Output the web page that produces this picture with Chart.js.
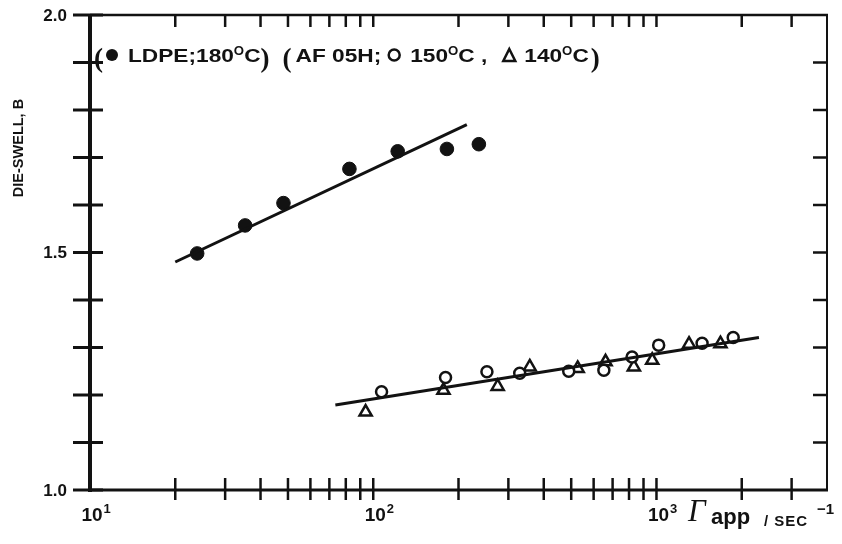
<!DOCTYPE html>
<html>
<head>
<meta charset="utf-8">
<script src="https://cdn.jsdelivr.net/npm/chart.js@4.4.1/dist/chart.umd.min.js"></script>
<style>
  html, body { margin: 0; padding: 0; background: #fff; }
</style>
</head>
<body>
<canvas id="chart" width="842" height="544"></canvas>
<script>
// LDPE at 180 C (filled circles) and its fitted line
const ldpeRate = [23.9, 35.3, 48.2, 82.4, 122, 182, 236]
const ldpeSwell = [1.498, 1.557, 1.604, 1.676, 1.713, 1.718, 1.728]
const ldpeFitRate = [20, 214]
const ldpeFitSwell = [1.480, 1.769]

// AF05H at 150 C (open circles) and 140 C (triangles), one common line
const af150Rate = [107, 180, 252, 329, 490, 652, 820, 1018, 1449, 1866]
const af150Swell = [1.207, 1.237, 1.249, 1.246, 1.250, 1.252, 1.280, 1.305, 1.309, 1.321]
const af140Rate = [94, 177, 275, 357, 527, 661, 832, 966, 1303, 1682]
const af140Swell = [1.164, 1.210, 1.218, 1.259, 1.256, 1.270, 1.259, 1.273, 1.307, 1.308]
const afFitRate = [73.5, 2300]
const afFitSwell = [1.179, 1.321]

// axes
const xTicks = [10, 20, 30, 40, 50, 60, 70, 80, 90, 100, 200, 300, 400, 500, 600, 700, 800, 900, 1000, 2000, 3000]
const xLabels = [10, 100, 1000]
const xLabelText = ['10', '10', '10']
const xLabelSup = ['1', '2', '3']
const yTicks = [1.0, 1.1, 1.2, 1.3, 1.4, 1.5, 1.6, 1.7, 1.8, 1.9, 2.0]
const yLabels = [1.0, 1.5, 2.0]

const INK = '#121212'
const SANS = '"Liberation Sans", Arial, sans-serif'

const pts = (xs, ys) => xs.map((x, i) => ({ x: x, y: ys[i] }))

const axesPlugin = {
  id: 'oldAxes',
  beforeDatasetsDraw(chart) {
    const { ctx, chartArea: a, scales: { x, y } } = chart
    const seg = (x1, y1, x2, y2, w) => {
      ctx.lineWidth = w
      ctx.beginPath()
      ctx.moveTo(x1, y1)
      ctx.lineTo(x2, y2)
      ctx.stroke()
    }
    ctx.save()
    ctx.strokeStyle = INK
    ctx.lineCap = 'butt'

    // frame
    seg(a.left, a.top, a.right + 1, a.top, 2.5)
    seg(a.right, a.top, a.right, a.bottom, 2)
    seg(a.left, a.top - 1, a.left, a.bottom + 2, 4)
    seg(a.left - 2, a.bottom, a.right + 1, a.bottom, 3)

    // x ticks: crossing on bottom, inward on top
    xTicks.forEach(v => {
      const px = x.getPixelForValue(v)
      if (v > 10) seg(px, a.bottom - 12, px, a.bottom + 10, 2.5)
      if (v > 10) seg(px, a.top, px, a.top + 12, 2.5)
    })
    // y ticks: crossing on left, inward on right
    yTicks.forEach(v => {
      const py = y.getPixelForValue(v)
      seg(a.left - 17, py, a.left + 13, py, 3)
      if (v > 1.0 && v < 2.0) seg(a.right - 14, py, a.right, py, 2.5)
    })

    // tick labels
    ctx.fillStyle = INK
    ctx.font = 'bold 17px ' + SANS
    ctx.textAlign = 'right'
    ctx.textBaseline = 'middle'
    yLabels.forEach(v => {
      ctx.fillText(v.toFixed(1), 67, y.getPixelForValue(v) + 1)
    })

    ctx.textBaseline = 'alphabetic'
    xLabels.forEach((v, i) => {
      const px = x.getPixelForValue(v)
      ctx.font = 'bold 19px ' + SANS
      ctx.textAlign = 'center'
      ctx.fillText(xLabelText[i], px + 2, 521)
      const w = ctx.measureText(xLabelText[i]).width
      ctx.font = 'bold 13px ' + SANS
      ctx.textAlign = 'left'
      ctx.fillText(xLabelSup[i], px + 2 + w / 2 + 1, 513)
    })

    // x axis title
    ctx.textAlign = 'left'
    ctx.font = 'italic 31px "Liberation Serif", serif'
    ctx.fillText('\u0393', 688, 521)
    ctx.font = 'bold 22px ' + SANS
    ctx.fillText('app', 711, 524)
    ctx.font = 'bold 15px ' + SANS
    ctx.letterSpacing = '1px'
    ctx.fillText('/ SEC', 764, 526)
    ctx.letterSpacing = '0px'
    ctx.font = 'bold 15px ' + SANS
    ctx.fillText('\u22121', 817, 514)

    // y axis title
    ctx.save()
    ctx.translate(19, 148)
    ctx.rotate(-Math.PI / 2)
    ctx.textAlign = 'center'
    ctx.textBaseline = 'middle'
    ctx.font = 'bold 14.5px ' + SANS
    ctx.fillText('DIE-SWELL, B', 0, 0)
    ctx.restore()

    ctx.restore()
  }
}

// the key written across the top of the plot (wide lettering, stretched)
const keyPlugin = {
  id: 'keyLine',
  afterDraw(chart) {
    const { ctx } = chart
    ctx.save()
    ctx.fillStyle = INK
    ctx.strokeStyle = INK
    ctx.textAlign = 'left'
    ctx.textBaseline = 'alphabetic'
    const base = 62
    let cx = 94
    const txt = (s, size, dy, k) => {
      k = k || 1.26
      ctx.font = 'bold ' + size + 'px ' + SANS
      const w = ctx.measureText(s).width
      ctx.save()
      ctx.translate(cx, base + (dy || 0))
      ctx.scale(k, 1)
      ctx.fillText(s, 0, 0)
      ctx.restore()
      cx += w * k
    }
    const paren = s => {
      ctx.font = 'bold 27px "Liberation Serif", serif'
      ctx.fillText(s, cx, base + 5)
      cx += ctx.measureText(s).width
    }
    const gap = g => { cx += g }
    const dot = filled => {
      ctx.beginPath()
      ctx.arc(cx + 6, base - 7, filled ? 6 : 5.5, 0, Math.PI * 2)
      if (filled) ctx.fill()
      else { ctx.lineWidth = 2.5; ctx.stroke() }
      cx += 12
    }
    const tri = () => {
      ctx.beginPath()
      ctx.moveTo(cx + 6, base - 13)
      ctx.lineTo(cx + 12, base - 1)
      ctx.lineTo(cx, base - 1)
      ctx.closePath()
      ctx.lineWidth = 2.5
      ctx.stroke()
      cx += 12
    }

    paren('(')
    gap(3); dot(true); gap(10)
    txt('LDPE;180', 18)
    txt('O', 12, -7, 1.1)
    txt('C', 18)
    paren(')')
    gap(13)
    paren('(')
    gap(4)
    txt('AF 05H;', 18)
    gap(7); dot(false); gap(10)
    txt('150', 18)
    txt('O', 12, -7, 1.1)
    txt('C ,', 18)
    gap(16); tri(); gap(9)
    txt('140', 18)
    txt('O', 12, -7, 1.1)
    txt('C', 18)
    gap(2)
    paren(')')
    ctx.restore()
  }
}

new Chart(document.getElementById('chart').getContext('2d'), {
  type: 'scatter',
  data: {
    datasets: [
      {
        label: 'LDPE fit',
        type: 'line',
        data: pts(ldpeFitRate, ldpeFitSwell),
        borderColor: INK,
        borderWidth: 3,
        pointRadius: 0
      },
      {
        label: 'AF05H fit',
        type: 'line',
        data: pts(afFitRate, afFitSwell),
        borderColor: INK,
        borderWidth: 3,
        pointRadius: 0
      },
      {
        label: 'LDPE 180 C',
        data: pts(ldpeRate, ldpeSwell),
        pointStyle: 'circle',
        pointRadius: 6.8,
        backgroundColor: INK,
        borderColor: INK,
        borderWidth: 1
      },
      {
        label: 'AF05H 150 C',
        data: pts(af150Rate, af150Swell),
        pointStyle: 'circle',
        pointRadius: 5.5,
        backgroundColor: '#fff',
        borderColor: INK,
        borderWidth: 2.5
      },
      {
        label: 'AF05H 140 C',
        data: pts(af140Rate, af140Swell),
        pointStyle: 'triangle',
        pointRadius: 7,
        backgroundColor: 'rgba(255,255,255,0)',
        borderColor: INK,
        borderWidth: 2.5
      }
    ]
  },
  options: {
    responsive: false,
    animation: false,
    layout: { padding: { left: 90, right: 15, top: 15, bottom: 54 } },
    scales: {
      x: { type: 'logarithmic', min: 10, max: 4000, display: false },
      y: { type: 'linear', min: 1.0, max: 2.0, display: false }
    },
    plugins: {
      legend: { display: false },
      tooltip: { enabled: false }
    }
  },
  plugins: [axesPlugin, keyPlugin]
})
</script>
</body>
</html>
